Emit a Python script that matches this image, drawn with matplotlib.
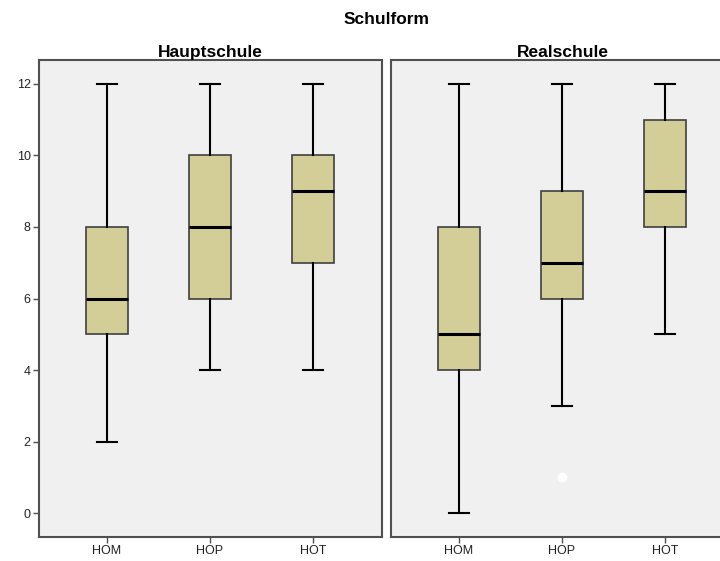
import matplotlib
matplotlib.use("Agg")
import matplotlib.pyplot as plt

plt.rcParams['font.family'] = ['Liberation Sans', 'DejaVu Sans']

categories = ["HOM", "HOP", "HOT"]
panels = ["Hauptschule", "Realschule"]
# per panel, per category: (whisker low, q1, median, q3, whisker high)
haupt_stats = [(2, 5, 6, 8, 12), (4, 6, 8, 10, 12), (4, 7, 9, 10, 12)]
real_stats = [(0, 4, 5, 8, 12), (3, 6, 7, 9, 12), (5, 8, 9, 11, 12)]
real_outliers = [[], [1], []]
haupt_outliers = [[], [], []]
y_ticks = [0, 2, 4, 6, 8, 10, 12]

fig = plt.figure(figsize=(7.2, 5.61), dpi=100)
fig.patch.set_facecolor('white')

W, H = 720, 561
def axpos(x0, x1, ytop, ybot):
    return [x0 / W, (H - ybot) / H, (x1 - x0) / W, (ybot - ytop) / H]

ax1 = fig.add_axes(axpos(39, 382, 60, 537))
ax2 = fig.add_axes(axpos(391, 734, 60, 537))

edge = '#404040'
fill = '#D3CE98'

for ax, stats_list, outl, title in [(ax1, haupt_stats, haupt_outliers, panels[0]),
                                     (ax2, real_stats, real_outliers, panels[1])]:
    stats = []
    for (lo, q1, med, q3, hi), fl, lab in zip(stats_list, outl, categories):
        stats.append(dict(whislo=lo, q1=q1, med=med, q3=q3, whishi=hi, fliers=fl, label=lab))
    ax.bxp(stats, positions=[1, 2, 3], widths=0.4, patch_artist=True,
           showfliers=True,
           boxprops=dict(facecolor=fill, edgecolor=edge, linewidth=1.2),
           medianprops=dict(color='black', linewidth=2.2),
           whiskerprops=dict(color='black', linewidth=1.5),
           capprops=dict(color='black', linewidth=1.5),
           capwidths=0.2,
           flierprops=dict(marker='o', markerfacecolor='white', markeredgecolor='white',
                           markersize=6))
    ax.set_facecolor('#F0F0F0')
    ax.set_xlim(0.34, 3.67)
    ax.set_ylim(-0.67, 12.67)
    ax.set_yticks(y_ticks)
    ax.set_xticks([1, 2, 3])
    ax.set_xticklabels(categories, fontsize=9)
    for s in ax.spines.values():
        s.set_color('#505050')
        s.set_linewidth(1.5)
    ax.tick_params(axis='both', length=4, width=1, color='#505050', labelsize=9, pad=2,
                   labelcolor='#222222')
    ax.set_title(title, fontsize=12.5, fontweight='bold', pad=1)

ax2.set_yticks([])
ax1.set_yticklabels([str(v) for v in y_ticks], fontsize=9)

fig.text(387 / W, 1 - 20 / H, "Schulform", ha='center', va='center', fontsize=12.5, fontweight='bold')

fig.savefig('out.png', dpi=100)
